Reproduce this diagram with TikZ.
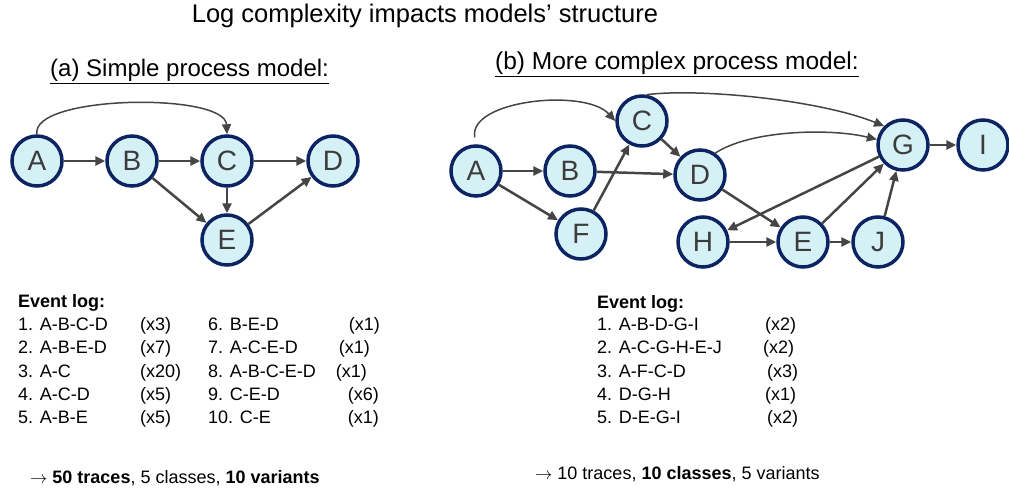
\documentclass[tikz,border=0pt]{standalone}
\usepackage{fontspec}
\setmainfont{Liberation Sans}
\usetikzlibrary{arrows.meta}
\definecolor{nodefill}{HTML}{D6F1F5}
\definecolor{nodeline}{HTML}{0D2463}
\definecolor{edgec}{HTML}{454545}
\definecolor{lbl}{HTML}{3C3C3C}
\newcommand{\rarr}{$\rightarrow$}
\begin{document}
\begin{tikzpicture}[x=1pt,y=-1pt,
  state/.style={circle,draw=nodeline,line width=3.5pt,fill=nodefill,minimum size=50pt,inner sep=0pt,font=\fontsize{28}{28}\selectfont,text=lbl},
  edge/.style={draw=edgec,line width=2.5pt,-{Triangle[length=10pt,width=9pt]}},
  thin edge/.style={draw=edgec,line width=1.5pt,-{Triangle[length=10pt,width=9pt]}},
  txt/.style={anchor=base west,inner sep=0pt,font=\fontsize{18}{21}\selectfont},
  head/.style={anchor=base west,inner sep=0pt,font=\fontsize{24}{28}\selectfont}]
\useasboundingbox (0,0) rectangle (1009,495);
% titles
\node[anchor=base,inner sep=0pt,font=\fontsize{25.5}{30}\selectfont] (title) at (425,23) {Log complexity impacts models’ structure};
\node[head] (ha) at (50,77) {\underline{(a) Simple process model:}};
\node[head,font=\fontsize{24.5}{28}\selectfont] (hb) at (495,70) {\underline{(b) More complex process model:}};
% left graph
\node[state] (A) at (37,161) {A};
\node[state] (B) at (132,161) {B};
\node[state] (C) at (227,161) {C};
\node[state] (D) at (333,161) {D};
\node[state] (E) at (227,240) {E};
\draw[edge] (A) -- (B);
\draw[edge] (B) -- (C);
\draw[edge] (C) -- (D);
\draw[edge] (C) -- (E);
\draw[edge] (B) -- (E);
\draw[edge] (E) -- (D);
\draw[thin edge] (A.north) .. controls (30,95) and (225,92) .. (C.north);
% right graph
\node[state] (rA) at (476,171) {A};
\node[state] (rB) at (570,171) {B};
\node[state] (rC) at (642,121) {C};
\node[state] (rD) at (700,175) {D};
\node[state] (rF) at (581,234) {F};
\node[state] (rG) at (903,145) {G};
\node[state] (rI) at (983,145) {I};
\node[state] (rH) at (703,242) {H};
\node[state] (rE) at (803,242) {E};
\node[state] (rJ) at (878,242) {J};
\draw[edge] (rA) -- (rB);
\draw[edge] (rA) -- (rF);
\draw[edge] (rB) -- (rD);
\draw[edge] (rF) -- (rC);
\draw[edge] (rC) -- (rD);
\draw[edge] (rD) -- (rE);
\draw[edge] (rG) -- (rH);
\draw[edge] (rH) -- (rE);
\draw[edge] (rE) -- (rJ);
\draw[edge] (rE) -- (rG);
\draw[edge] (rJ) -- (rG);
\draw[edge] (rG) -- (rI);
\draw[thin edge, shorten <=7pt] (rA.north) .. controls (468,100) and (585,88) .. (rC.west);
\draw[thin edge] (rC.80) .. controls (700,88) and (820,100) .. (rG.135);
\draw[thin edge] (rD.55) .. controls (750,130) and (830,128) .. (rG.168);
% left event log
\node[txt,font=\bfseries\fontsize{18}{21}\selectfont] (la) at (18,307) {Event log:};
\node[txt] (l1) at (18,330) {1. A-B-C-D};
\node[txt] (l2) at (18,353) {2. A-B-E-D};
\node[txt] (l3) at (18,377) {3. A-C};
\node[txt] (l4) at (18,400) {4. A-C-D};
\node[txt] (l5) at (18,423) {5. A-B-E};
\node[txt] (c1) at (140,330) {(x3)};
\node[txt] (c2) at (140,353) {(x7)};
\node[txt] (c3) at (140,377) {(x20)};
\node[txt] (c4) at (140,400) {(x5)};
\node[txt] (c5) at (140,423) {(x5)};
\node[txt] (l6) at (208,330) {6. B-E-D};
\node[txt] (l7) at (208,353) {7. A-C-E-D};
\node[txt] (l8) at (208,377) {8. A-B-C-E-D};
\node[txt] (l9) at (208,400) {9. C-E-D};
\node[txt] (l10) at (208,423) {10. C-E};
\node[txt,anchor=base east] (c6) at (380,330) {(x1)};
\node[txt,anchor=base east] (c7) at (370,353) {(x1)};
\node[txt,anchor=base east] (c8) at (367,377) {(x1)};
\node[txt,anchor=base east] (c9) at (379,400) {(x6)};
\node[txt,anchor=base east] (c10) at (379,423) {(x1)};
\node[txt] (lsum) at (30,483) {\rarr\ \textbf{50 traces}, 5 classes, \textbf{10 variants}};
% right event log
\node[txt,font=\bfseries\fontsize{18}{21}\selectfont] (ra) at (597,308) {Event log:};
\node[txt] (r1) at (597,330) {1. A-B-D-G-I};
\node[txt] (r2) at (597,353) {2. A-C-G-H-E-J};
\node[txt] (r3) at (597,377) {3. A-F-C-D};
\node[txt] (r4) at (597,400) {4. D-G-H};
\node[txt] (r5) at (597,423) {5. D-E-G-I};
\node[txt] (d1) at (765,330) {(x2)};
\node[txt] (d2) at (763,353) {(x2)};
\node[txt] (d3) at (767,377) {(x3)};
\node[txt] (d4) at (765,400) {(x1)};
\node[txt] (d5) at (767,423) {(x2)};
\node[txt] (rsum) at (535,479) {\rarr\ 10 traces, \textbf{10 classes}, 5 variants};
\end{tikzpicture}
\end{document}
